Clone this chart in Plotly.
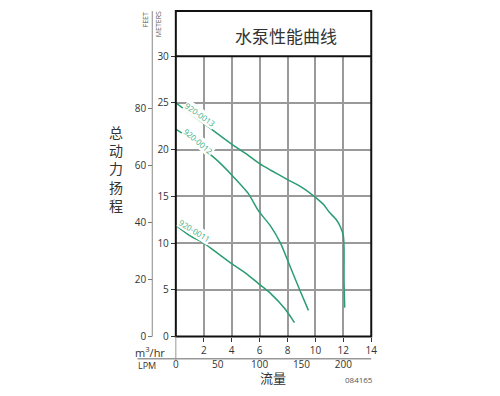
import plotly.graph_objects as go

# ---- data (flow in m3/hr, head in meters) ----
flow_0013 = [0.0, 1.0, 2.0, 3.0, 4.0, 5.0, 6.0, 6.8, 8.0, 9.0, 10.0, 10.6, 11.0, 11.5, 11.8, 12.0, 12.05, 12.05, 12.1]
head_0013 = [25.0, 23.9, 22.8, 21.7, 20.6, 19.6, 18.5, 17.8, 16.8, 16.0, 14.9, 14.1, 13.3, 12.5, 11.7, 10.8, 9.5, 6.0, 3.1]

flow_0012 = [0.0, 1.0, 1.7, 3.0, 4.0, 5.2, 5.9, 6.8, 7.5, 8.0, 8.9, 9.5]
head_0012 = [22.2, 21.2, 20.4, 18.8, 17.3, 15.3, 13.5, 11.8, 10.0, 8.2, 4.9, 2.8]

flow_0011 = [0.0, 1.0, 2.0, 3.0, 4.0, 5.0, 5.9, 6.8, 7.8, 8.5]
head_0011 = [11.9, 10.8, 10.0, 8.9, 7.8, 6.8, 5.7, 4.6, 3.0, 1.5]

series_names = ["920-0013", "920-0012", "920-0011"]
label_x = [1.76, 1.65, 1.34]
label_y = [23.8, 20.9, 11.3]
label_angle = [35, 40, 32]

x_ticks_m3 = [2, 4, 6, 8, 10, 12, 14]
x_ticks_lpm = [0, 50, 100, 150, 200]
y_ticks_m = [0, 5, 10, 15, 20, 25, 30]
y_ticks_ft = [0, 20, 40, 60, 80]

W, H = 500, 396
def px(x):
    return x / W
def py(y):
    # compensate the observed vertical offset/squeeze of the photographed page
    fy = (y - 8) / 0.96
    fy = min(max(fy, 0), H)
    return 1 - fy / H

LINE = "#2a9d72"
LABEL = "#3aae80"
GRID = "#9a9a9a"
TXT = "#333333"
FONT = "Open Sans, Noto Sans, sans-serif"
CJK = "Noto Sans CJK SC"

fig = go.Figure()
for fx, hy in [(flow_0013, head_0013), (flow_0012, head_0012), (flow_0011, head_0011)]:
    fig.add_trace(go.Scatter(x=fx, y=hy, mode="lines",
                             line=dict(color=LINE, width=1.5, shape="spline", smoothing=0.6),
                             hoverinfo="skip", showlegend=False))
# invisible traces to activate secondary axes
fig.add_trace(go.Scatter(x=[0], y=[0], xaxis="x2", yaxis="y", mode="markers",
                         marker=dict(opacity=0), hoverinfo="skip", showlegend=False))
fig.add_trace(go.Scatter(x=[0], y=[0], xaxis="x", yaxis="y2", mode="markers",
                         marker=dict(opacity=0), hoverinfo="skip", showlegend=False))

x0p, x1p = 176, 375
yb, yt = 336, 57
ytop = 12

fig.update_layout(
    width=W, height=H, autosize=False,
    margin=dict(l=0, r=0, t=0, b=0),
    paper_bgcolor="white", plot_bgcolor="white",
    font=dict(family=FONT, color=TXT, size=10),
    xaxis=dict(domain=[px(x0p), px(x1p)], range=[0, 14], tickvals=x_ticks_m3,
               ticks="outside", ticklen=4, tickcolor="#333", showgrid=True,
               gridcolor=GRID, gridwidth=1.5, zeroline=False, showline=False,
               tickfont=dict(size=10, color=TXT)),
    yaxis=dict(domain=[py(yb), py(yt)], range=[0, 30], tickvals=y_ticks_m,
               ticks="outside", ticklen=4, tickcolor="#333", showgrid=True,
               gridcolor=GRID, gridwidth=1.5, zeroline=False, showline=False,
               tickfont=dict(size=10, color=TXT)),
    yaxis2=dict(overlaying="y", anchor="free", position=px(152), side="left",
                range=[0, 30 * 3.28084], tickvals=y_ticks_ft, ticks="outside",
                ticklen=4, tickcolor="#777", showgrid=False, zeroline=False,
                showline=False, tickfont=dict(size=10, color=TXT)),
    xaxis2=dict(overlaying="x", anchor="free", position=py(356), side="bottom",
                range=[0, 14 * 1000 / 60], tickvals=x_ticks_lpm, ticks="",
                showgrid=False, zeroline=False, showline=False,
                tickfont=dict(size=10, color=TXT)),
)

shapes = [
    dict(type="rect", xref="paper", yref="paper", x0=px(x0p), x1=px(x1p), y0=py(yb), y1=py(ytop),
         line=dict(color="#111", width=2)),
    dict(type="line", xref="paper", yref="paper", x0=px(x0p), x1=px(x1p), y0=py(yt), y1=py(yt),
         line=dict(color="#111", width=2)),
    dict(type="line", xref="paper", yref="paper", x0=px(152), x1=px(152), y0=py(yb), y1=py(ytop),
         line=dict(color="#888", width=1)),
    dict(type="line", xref="paper", yref="paper", x0=px(137), x1=px(x1p), y0=py(358), y1=py(358),
         line=dict(color="#999", width=1.5)),
    dict(type="line", xref="paper", yref="paper", x0=px(x0p), x1=px(x0p), y0=py(yb), y1=py(360),
         line=dict(color="#999", width=1)),
]
fig.update_layout(shapes=shapes)

C = dict(xanchor="center", yanchor="middle", showarrow=False)
ann = []
for name, lx, ly, ang in zip(series_names, label_x, label_y, label_angle):
    ann.append(dict(x=lx, y=ly, xref="x", yref="y", text=name, textangle=ang,
                    font=dict(size=8, color=LABEL, family=FONT),
                    bgcolor="white", borderpad=0, **C))
ann += [
    dict(x=px(288), y=py(36), xref="paper", yref="paper", text="水泵性能曲线",
         font=dict(size=17, color=TXT, family=CJK), **C),
    dict(x=px(115), y=py(169), xref="paper", yref="paper",
         text="总<br>动<br>力<br>扬<br>程",
         font=dict(size=14, color=TXT, family=CJK), **C),
    dict(x=px(275), y=0, xref="paper", yref="paper", text="流量",
         xanchor="center", yanchor="bottom", showarrow=False,
         font=dict(size=13, color=TXT, family=CJK)),
    dict(x=px(363), y=0.004, xref="paper", yref="paper", text="084165",
         xanchor="center", yanchor="bottom", showarrow=False,
         font=dict(size=8, color="#555", family=FONT)),
    dict(x=px(150), y=py(351), xref="paper", yref="paper", text="m<sup>3</sup>/hr",
         font=dict(size=11, color=TXT, family=FONT), **C),
    dict(x=px(147), y=py(365), xref="paper", yref="paper", text="LPM",
         font=dict(size=9, color=TXT, family=FONT), **C),
    dict(x=px(145), y=py(21), xref="paper", yref="paper", text="FEET", textangle=-90,
         font=dict(size=7, color="#555", family=FONT), **C),
    dict(x=px(158), y=py(25), xref="paper", yref="paper", text="METERS", textangle=-90,
         font=dict(size=7, color="#555", family=FONT), **C),
]
fig.update_layout(annotations=ann)

fig.write_html("out.html", config={"displayModeBar": False},
               post_script="document.body.style.margin='0';document.body.style.overflow='hidden';")
